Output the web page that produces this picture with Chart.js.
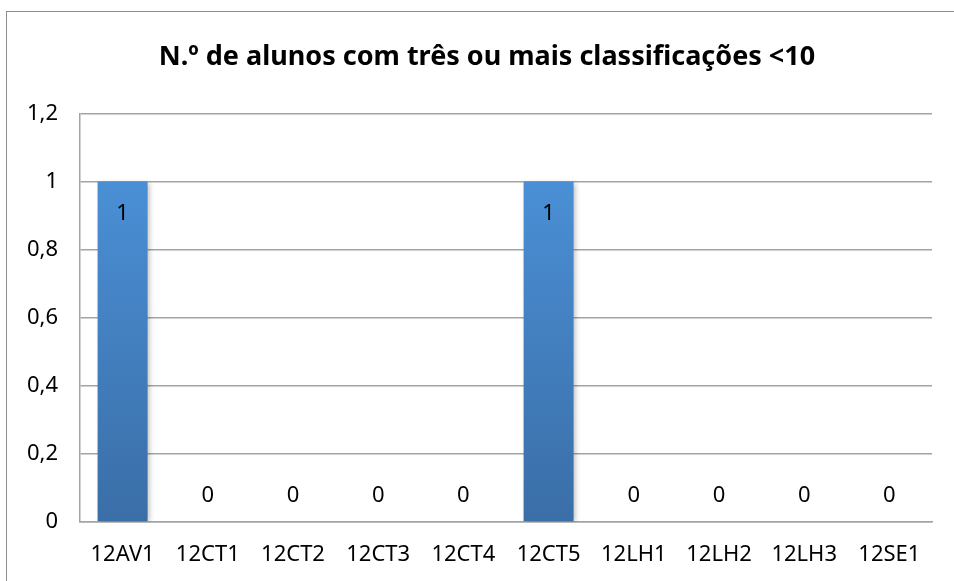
<!DOCTYPE html>
<html>
<head>
<meta charset="utf-8">
<script src="https://cdn.jsdelivr.net/npm/chart.js@4"></script>
<style>
  body { margin: 0; background: #fff; overflow: hidden; }
  #frame { position: absolute; left: 6px; top: 11px; width: 1000px; height: 620px; border: 1px solid #8e8e8e; }
  #wrap { position: absolute; left: 0; top: 0; width: 974px; height: 581px; }
</style>
</head>
<body>
<div id="frame"></div>
<div id="wrap"><canvas id="chart"></canvas></div>
<script>
// turmas e número de alunos
const turmas = ['12AV1', '12CT1', '12CT2', '12CT3', '12CT4', '12CT5', '12LH1', '12LH2', '12LH3', '12SE1'];
const alunos = [1, 0, 0, 0, 0, 1, 0, 0, 0, 0];
const yTicks = [0, 0.2, 0.4, 0.6, 0.8, 1, 1.2];

const FONT = "'Noto Sans', 'Open Sans', sans-serif";

function barGradient(ctx) {
    const chart = ctx.chart;
    const area = chart.chartArea;
    if (!area) return '#4a8ed3';
    const y = chart.scales.y;
    const g = chart.ctx.createLinearGradient(0, y.getPixelForValue(1), 0, y.getPixelForValue(0));
    g.addColorStop(0, '#4a8fd5');
    g.addColorStop(1, '#3a6ea7');
    return g;
}

// sombra leve nas barras + rótulos de valor
const labelsPlugin = {
    id: 'valueLabels',
    beforeDatasetsDraw(chart) {
        const c = chart.ctx;
        c.save();
        c.shadowColor = 'rgba(0,0,0,0.25)';
        c.shadowBlur = 5;
        c.shadowOffsetX = 2;
        c.shadowOffsetY = 1;
    },
    afterDatasetsDraw(chart) {
        const c = chart.ctx;
        c.restore();
        c.save();
        c.font = '22px ' + FONT;
        c.fillStyle = '#000';
        c.textAlign = 'center';
        c.textBaseline = 'middle';
        chart.getDatasetMeta(0).data.forEach((bar, i) => {
            const v = alunos[i];
            const y = v > 0 ? bar.y + 32 : bar.y - 26;
            c.fillText(String(v), bar.x, y);
        });
        c.restore();
    }
};

new Chart(document.getElementById('chart'), {
    type: 'bar',
    data: {
        labels: turmas,
        datasets: [{
            data: alunos,
            backgroundColor: barGradient,
            borderWidth: 0,
            barPercentage: 0.587,
            categoryPercentage: 1
        }]
    },
    options: {
        responsive: true,
        maintainAspectRatio: false,
        animation: false,
        layout: { padding: 0 },
        plugins: {
            legend: { display: false },
            tooltip: { enabled: false },
            title: {
                display: true,
                text: 'N.º de alunos com três ou mais classificações <10',
                color: '#000',
                font: { family: FONT, size: 27, weight: 'bold' },
                padding: { top: 41, bottom: 40 }
            }
        },
        scales: {
            x: {
                grid: { display: false, drawTicks: false },
                border: { display: true, color: '#a3a3a3', width: 1.5 },
                ticks: { color: '#000', font: { family: FONT, size: 22 }, padding: 20, maxRotation: 0 },
                afterFit(scale) { scale.height = 59; }
            },
            y: {
                min: 0,
                max: 1.2,
                afterBuildTicks(scale) { scale.ticks = yTicks.map(v => ({ value: v })); },
                afterFit(scale) { scale.width = 80; },
                grid: { color: '#a3a3a3', lineWidth: 1.5, drawTicks: false },
                border: { display: true, color: '#a3a3a3', width: 1.5 },
                ticks: {
                    color: '#000',
                    font: { family: FONT, size: 22 },
                    padding: 22,
                    callback: v => String(v).replace('.', ',')
                }
            },
            // eixo invisível só para reservar a margem direita
            yRight: {
                position: 'right',
                display: true,
                min: 0,
                max: 1.2,
                grid: { display: false, drawTicks: false },
                border: { display: false },
                ticks: { display: false },
                afterFit(scale) { scale.width = 42; }
            }
        }
    },
    plugins: [labelsPlugin]
});
</script>
</body>
</html>
